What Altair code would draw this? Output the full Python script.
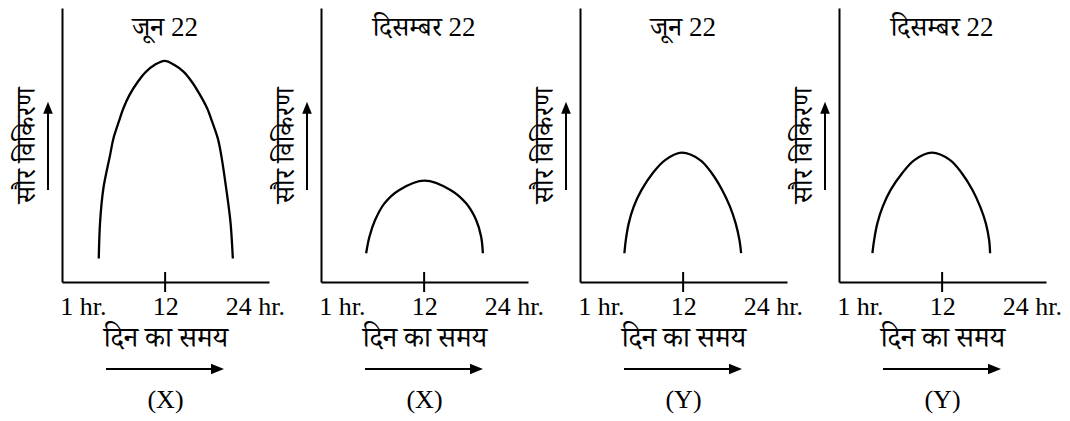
import altair as alt
import pandas as pd

# ---- text ----
PANEL_TITLES = ["जून 22", "दिसम्बर 22", "जून 22", "दिसम्बर 22"]
PANEL_TAGS = ["(X)", "(X)", "(Y)", "(Y)"]
Y_TITLE = "सौर विकिरण"
X_TITLE = "दिन का समय"
TICK_VALUES = [1, 12, 24]
TICK_LABELS = ["1 hr.", "12", "24 hr."]
MARKED_TICK = 12

# ---- curves (hour of day, solar radiation in arbitrary units) ----
HOURS_1 = [3.12, 3.30, 3.74, 4.64, 5.08, 5.80, 6.42, 7.22, 8.35, 9.46, 10.57, 11.93,
           13.25, 14.45, 15.57, 16.69, 17.62, 18.29, 19.05, 19.50, 20.17, 20.74, 21.06]
RAD_1 = [8.6, 22.0, 34.2, 46.4, 52.4, 58.5, 63.4, 68.2, 73.1, 76.8, 79.2, 80.7,
         79.2, 76.8, 73.1, 68.2, 63.4, 58.5, 52.4, 46.4, 34.2, 22.0, 8.6]

HOURS_2 = [4.24, 4.68, 5.44, 6.69, 8.69, 12.04, 15.52, 17.62, 18.96, 19.63, 19.86]
RAD_2 = [10.5, 16.5, 22.6, 28.7, 33.6, 37.0, 33.6, 28.7, 22.6, 16.5, 10.5]

HOURS_3 = [4.14, 4.33, 4.72, 5.39, 6.44, 7.92, 9.59, 11.83, 14.28, 15.84, 17.22, 18.27, 19.03, 19.54, 19.76]
RAD_3 = [10.5, 15.3, 21.4, 27.5, 33.6, 39.7, 44.5, 47.2, 44.5, 39.7, 33.6, 27.5, 21.4, 15.3, 10.5]

HOURS_4 = [2.67, 2.90, 3.33, 4.05, 5.11, 6.65, 8.29, 10.62, 13.07, 14.64, 16.06, 17.09, 17.85, 18.29, 18.42]
RAD_4 = [10.5, 15.3, 21.4, 27.5, 33.6, 39.7, 44.5, 47.2, 44.5, 39.7, 33.6, 27.5, 21.4, 15.3, 10.5]

HOURS = [HOURS_1, HOURS_2, HOURS_3, HOURS_4]
RADS = [RAD_1, RAD_2, RAD_3, RAD_4]

X_DOMAIN = [-1.8, 25.9]
Y_DOMAIN = [0, 100]

# ---- style ----
W, H = 207, 274
FONT = 'Liberation Serif, "Noto Serif Devanagari", "Noto Sans Devanagari", serif'
INK = "black"

label_expr = " : ".join(
    f"datum.value == {v} ? '{t}'" for v, t in zip(TICK_VALUES[:-1], TICK_LABELS[:-1])
) + f" : '{TICK_LABELS[-1]}'"

UP_HEAD = "M0,-1L0.8,1L-0.8,1Z"
RIGHT_HEAD = "M1,0L-1,-0.8L-1,0.8Z"


def panel(i):
    df = pd.DataFrame({"hour": HOURS[i], "rad": RADS[i]})
    x = alt.X(
        "hour:Q",
        scale=alt.Scale(domain=X_DOMAIN, nice=False, zero=False),
        axis=alt.Axis(
            values=TICK_VALUES, labelExpr=label_expr, ticks=False, grid=False,
            domainColor=INK, domainWidth=2, labelFont=FONT, labelFontSize=26,
            labelColor=INK, labelPadding=11, labelFlush=False, labelOverlap=False,
            title=X_TITLE, titleFont=FONT, titleFontSize=28, titleFontWeight="normal",
            titleColor=INK, titlePadding=5,
        ),
    )
    y = alt.Y(
        "rad:Q",
        scale=alt.Scale(domain=Y_DOMAIN, nice=False, zero=False),
        axis=alt.Axis(
            labels=False, ticks=False, grid=False, domainColor=INK, domainWidth=2,
            title=Y_TITLE, titleFont=FONT, titleFontSize=27, titleFontWeight="normal",
            titleColor=INK, titlePadding=22,
        ),
    )
    curve = alt.Chart(df).mark_line(
        color=INK, strokeWidth=2.3, interpolate="catmull-rom"
    ).encode(x=x, y=y)

    tick = alt.Chart(pd.DataFrame({"hour": [MARKED_TICK]})).mark_rule(
        color=INK, strokeWidth=2
    ).encode(x=x, y=alt.value(H - 10), y2=alt.value(H + 10))

    head_title = alt.Chart(
        pd.DataFrame({"hour": [MARKED_TICK], "label": [PANEL_TITLES[i]]})
    ).mark_text(
        font=FONT, fontSize=27, color=INK, baseline="alphabetic", align="center"
    ).encode(x=x, y=alt.value(28), text="label:N")

    one = pd.DataFrame({"k": [0]})
    # upward arrow beside the y title
    y_shaft = alt.Chart(one).mark_rule(color=INK, strokeWidth=2).encode(
        x=alt.value(-14), y=alt.value(182), y2=alt.value(100)
    )
    y_head = alt.Chart(one).mark_point(
        shape=UP_HEAD, size=144, filled=True, color=INK, opacity=1, strokeWidth=0
    ).encode(x=alt.value(-14), y=alt.value(99.7))
    # rightward arrow under the x title
    x_shaft = alt.Chart(one).mark_rule(color=INK, strokeWidth=2).encode(
        x=alt.value(44), x2=alt.value(156), y=alt.value(361)
    )
    x_head = alt.Chart(one).mark_point(
        shape=RIGHT_HEAD, size=169, filled=True, color=INK, opacity=1, strokeWidth=0
    ).encode(x=alt.value(155.5), y=alt.value(361))

    return alt.layer(
        curve, tick, head_title, y_shaft, y_head, x_shaft, x_head
    ).properties(
        width=W, height=H,
        title=alt.TitleParams(
            PANEL_TAGS[i], orient="bottom", anchor="middle", font=FONT,
            fontSize=26, fontWeight="normal", color=INK, offset=13,
        ),
    )


chart = alt.hconcat(
    *[panel(i) for i in range(4)], spacing=52, bounds="flush"
).properties(
    padding={"left": 4, "top": 0, "right": 0, "bottom": 0},
    background="white",
).configure_view(strokeWidth=0, stroke="transparent")

chart.save("out.html", embed_options={"renderer": "svg", "actions": False})
